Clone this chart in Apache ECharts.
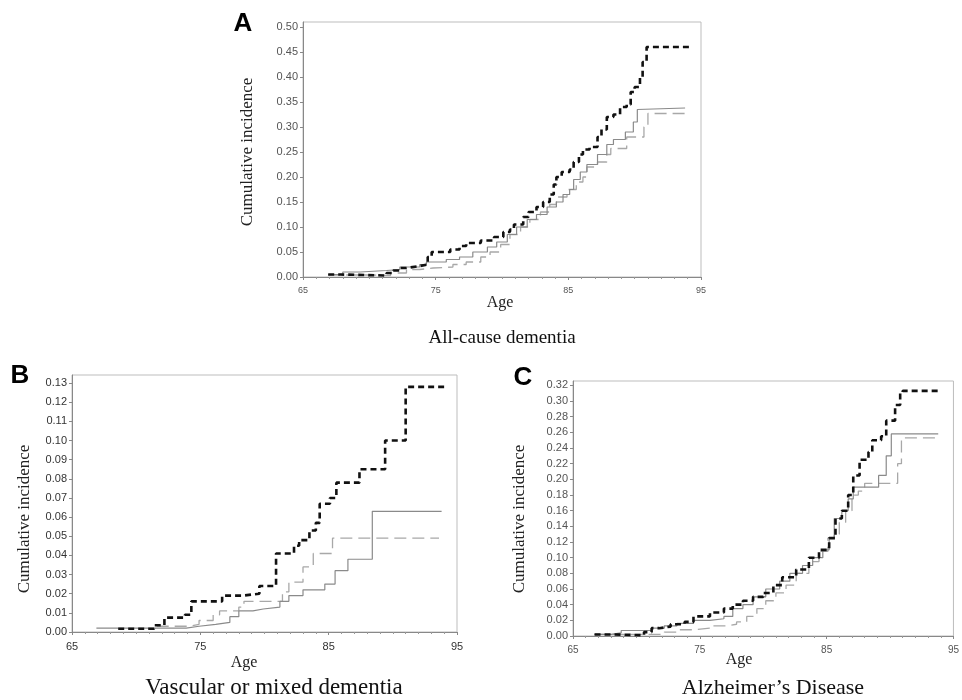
<!DOCTYPE html>
<html>
<head>
<meta charset="utf-8">
<script src="https://cdn.jsdelivr.net/npm/echarts@6/dist/echarts.min.js"></script>
<style>
html,body{margin:0;padding:0;background:#fff;}
#chart{width:962px;height:700px;}
</style>
</head>
<body>
<div id="chart"></div>
<script>
// ---------- tick labels ----------
const xTicks = [65, 75, 85, 95];
const yTicksA = [0, 0.05, 0.10, 0.15, 0.20, 0.25, 0.30, 0.35, 0.40, 0.45, 0.50];
const yTicksB = [0, 0.01, 0.02, 0.03, 0.04, 0.05, 0.06, 0.07, 0.08, 0.09, 0.10, 0.11, 0.12, 0.13];
const yTicksC = [0, 0.02, 0.04, 0.06, 0.08, 0.10, 0.12, 0.14, 0.16, 0.18, 0.20, 0.22, 0.24, 0.26, 0.28, 0.30, 0.32];

// ---------- Panel A: All-cause dementia ----------
const ageA1 = [66.9, 67.8, 71.3, 71.8, 72.3, 72.8, 73.8, 74.4, 74.7, 76.1, 76.8, 77.3, 78.4, 79.4, 80.1, 80.6, 80.9, 81.6, 82.0, 82.6, 83.1, 83.6, 83.9, 84.1, 84.5, 85.1, 85.4, 85.8, 86.1, 86.6, 87.2, 87.5, 87.9, 88.4, 88.9, 89.4, 89.7, 90.0, 90.4, 90.6, 90.9, 94.2];
const incA1 = [0.005, 0.003, 0.008, 0.013, 0.018, 0.022, 0.025, 0.04, 0.05, 0.055, 0.062, 0.068, 0.073, 0.08, 0.09, 0.095, 0.105, 0.12, 0.13, 0.14, 0.15, 0.165, 0.185, 0.2, 0.21, 0.215, 0.23, 0.245, 0.255, 0.26, 0.28, 0.295, 0.32, 0.325, 0.34, 0.345, 0.37, 0.38, 0.4, 0.43, 0.46, 0.46];
const ageA2 = [66.9, 68.0, 69.3, 71.3, 72.3, 73.8, 74.3, 75.8, 76.8, 77.8, 78.9, 79.6, 80.4, 81.1, 81.9, 82.6, 83.4, 84.1, 84.6, 85.1, 85.4, 85.9, 86.4, 87.2, 87.9, 88.4, 89.3, 89.9, 90.2, 90.3, 93.8];
const incA2 = [0.005, 0.01, 0.013, 0.015, 0.02, 0.025, 0.03, 0.035, 0.04, 0.05, 0.06, 0.07, 0.085, 0.1, 0.115, 0.125, 0.14, 0.15, 0.165, 0.175, 0.195, 0.21, 0.225, 0.245, 0.265, 0.275, 0.29, 0.31, 0.335, 0.338, 0.338];
const ageA3 = [66.9, 69.8, 71.6, 72.8, 73.8, 74.8, 76.3, 77.3, 78.4, 79.1, 79.9, 80.6, 81.4, 82.1, 82.9, 83.6, 84.1, 84.9, 85.6, 86.1, 86.4, 87.2, 87.9, 88.2, 89.4, 90.7, 91.0, 93.8];
const incA3 = [0.004, 0.003, 0.008, 0.015, 0.018, 0.02, 0.025, 0.03, 0.04, 0.05, 0.065, 0.085, 0.1, 0.115, 0.13, 0.145, 0.16, 0.175, 0.19, 0.2, 0.22, 0.23, 0.245, 0.257, 0.28, 0.3, 0.327, 0.327];

// ---------- Panel B: Vascular or mixed dementia ----------
const ageB1 = [68.6, 71.4, 72.2, 73.8, 74.3, 76.7, 78.3, 79.6, 80.9, 82.3, 82.7, 83.5, 84.0, 84.3, 85.1, 85.6, 87.4, 89.4, 91.0, 94.0];
const incB1 = [0.0017, 0.0035, 0.0075, 0.009, 0.016, 0.019, 0.02, 0.024, 0.041, 0.045, 0.048, 0.053, 0.057, 0.067, 0.07, 0.078, 0.085, 0.1, 0.128, 0.128];
const ageB2 = [66.9, 73.9, 74.9, 76.2, 77.3, 78.0, 79.1, 79.9, 81.2, 81.9, 83.0, 84.7, 85.5, 86.5, 88.4, 93.8];
const incB2 = [0.002, 0.003, 0.004, 0.005, 0.008, 0.011, 0.012, 0.013, 0.016, 0.019, 0.022, 0.025, 0.032, 0.038, 0.063, 0.063];
const ageB3 = [71.6, 74.2, 74.9, 76.0, 76.5, 78.0, 78.4, 81.4, 81.9, 83.0, 83.8, 85.3, 93.6];
const incB3 = [0.003, 0.004, 0.006, 0.009, 0.011, 0.013, 0.016, 0.021, 0.026, 0.034, 0.041, 0.049, 0.049];

// ---------- Panel C: Alzheimer's Disease ----------
const ageC1 = [66.7, 68.3, 70.6, 71.2, 71.8, 72.7, 73.8, 74.5, 75.8, 76.9, 77.6, 78.4, 79.2, 80.0, 80.8, 81.5, 82.6, 83.6, 84.4, 85.2, 85.7, 86.2, 86.7, 87.1, 87.6, 88.3, 88.6, 89.3, 89.7, 90.4, 90.8, 91.0, 93.9];
const incC1 = [0.002, 0.001, 0.005, 0.01, 0.012, 0.015, 0.018, 0.025, 0.03, 0.035, 0.04, 0.045, 0.05, 0.055, 0.065, 0.075, 0.085, 0.1, 0.11, 0.125, 0.15, 0.16, 0.18, 0.205, 0.225, 0.235, 0.25, 0.255, 0.275, 0.295, 0.31, 0.313, 0.313];
const ageC2 = [66.7, 68.0, 68.8, 71.2, 72.2, 73.2, 74.5, 75.8, 76.9, 77.6, 78.4, 79.2, 80.2, 81.3, 82.1, 83.1, 83.9, 84.7, 85.2, 85.6, 86.2, 86.7, 87.1, 89.1, 89.7, 90.1, 93.8];
const incC2 = [0.002, 0.004, 0.007, 0.01, 0.013, 0.016, 0.02, 0.022, 0.025, 0.035, 0.04, 0.05, 0.06, 0.07, 0.08, 0.09, 0.1, 0.11, 0.125, 0.15, 0.16, 0.175, 0.19, 0.205, 0.23, 0.258, 0.258];
const ageC3 = [66.7, 72.2, 73.2, 74.5, 75.8, 77.1, 77.9, 78.7, 79.5, 80.2, 81.0, 81.8, 82.6, 83.6, 84.4, 85.1, 85.6, 86.0, 86.5, 87.0, 87.5, 88.0, 90.6, 90.9, 93.8];
const incC3 = [0.002, 0.005, 0.008, 0.01, 0.013, 0.015, 0.018, 0.025, 0.035, 0.045, 0.055, 0.065, 0.08, 0.095, 0.108, 0.125, 0.13, 0.145, 0.16, 0.18, 0.185, 0.195, 0.22, 0.253, 0.253];

const panelLetters = ['A', 'B', 'C'];
const panelTitles = ['All-cause dementia', 'Vascular or mixed dementia', 'Alzheimer\u2019s Disease'];
const yName = 'Cumulative incidence';
const xName = 'Age';

// ---------- build ----------
const pairs = (a, v) => a.map((x, i) => [x, v[i]]);
const SANS = '"Liberation Sans", Arial, sans-serif';
const SERIF = '"Liberation Serif", "Times New Roman", serif';

const grids = [
  {left: 303, right: 261, top: 22, height: 255},
  {left: 72, right: 505, top: 375, height: 257},
  {left: 573, right: 4, top: 381, height: 255}
];
const yMax = [0.51, 0.1342, 0.3256];
const yTicks = [yTicksA, yTicksB, yTicksC];
const labelColors = ['#555', '#333', '#555'];
const xLabelSize = [9, 11, 10];

const xAxes = grids.map((g, i) => ({
  type: 'value', gridIndex: i, min: 65, max: 95, interval: 10,
  axisLine: {lineStyle: {color: '#888', width: 1}},
  axisTick: {show: true, length: 3, lineStyle: {color: '#888'}},
  minorTick: {show: true, splitNumber: 10, length: 2, lineStyle: {color: '#999'}},
  splitLine: {show: false},
  axisLabel: {customValues: xTicks, fontFamily: SANS, fontSize: xLabelSize[i], color: labelColors[i], margin: 9},
  name: '', 
}));
const yAxes = grids.map((g, i) => ({
  type: 'value', gridIndex: i, min: 0, max: yMax[i],
  axisLine: {show: true, lineStyle: {color: '#888', width: 1}},
  axisTick: {show: true, length: 3, customValues: yTicks[i], lineStyle: {color: '#888'}},
  splitLine: {show: false},
  axisLabel: {customValues: yTicks[i], formatter: v => v.toFixed(2), fontFamily: SANS, fontSize: 11, color: labelColors[i], margin: 5}
}));

const styles = [
  {color: '#111', width: 2.6, type: [6, 4]},
  {color: '#8a8a8a', width: 1.2, type: 'solid'},
  {color: '#a8a8a8', width: 1.3, type: [12, 6]}
];
const panelData = [
  [[ageA1, incA1], [ageA2, incA2], [ageA3, incA3]],
  [[ageB1, incB1], [ageB2, incB2], [ageB3, incB3]],
  [[ageC1, incC1], [ageC2, incC2], [ageC3, incC3]]
];
const groupNames = ['Group 1', 'Group 2', 'Group 3'];
const series = [];
panelData.forEach((pd, p) => {
  [2, 1, 0].forEach(s => {
    series.push({
      type: 'line', name: groupNames[s], xAxisIndex: p, yAxisIndex: p,
      step: 'end', showSymbol: false, symbol: 'none', silent: true, animation: false,
      z: 10 - s,
      lineStyle: styles[s],
      data: pairs(pd[s][0], pd[s][1])
    });
  });
});

// text positions
const letterPos = [[243, 24], [20, 376], [523, 378]];
const titlePos = [[502, 338], [274, 688], [773, 688]];
const titleSize = [19, 23, 22];
const yNamePos = [[248, 152], [25, 519], [520, 519]];
const xNamePos = [[500, 303], [244, 663], [739, 660]];

const graphic = [];
for (let i = 0; i < 3; i++) {
  graphic.push({type: 'text', x: letterPos[i][0], y: letterPos[i][1],
    style: {text: panelLetters[i], font: 'bold 26px ' + SANS, fill: '#000', textAlign: 'center', textVerticalAlign: 'middle'}});
  graphic.push({type: 'text', x: titlePos[i][0], y: titlePos[i][1],
    style: {text: panelTitles[i], font: titleSize[i] + 'px ' + SERIF, fill: '#111', textAlign: 'center', textVerticalAlign: 'middle'}});
  graphic.push({type: 'text', x: yNamePos[i][0], y: yNamePos[i][1], rotation: Math.PI / 2,
    style: {text: yName, font: '17px ' + SERIF, fill: '#222', textAlign: 'center', textVerticalAlign: 'middle'}});
  graphic.push({type: 'text', x: xNamePos[i][0], y: xNamePos[i][1],
    style: {text: xName, font: '16px ' + SERIF, fill: '#222', textAlign: 'center', textVerticalAlign: 'middle'}});
}

const chart = echarts.init(document.getElementById('chart'), null, {renderer: 'canvas'});
chart.setOption({
  backgroundColor: '#fff',
  animation: false,
  grid: grids.map(g => Object.assign({show: true, borderColor: '#bdbdbd', borderWidth: 1, backgroundColor: 'transparent'}, g)),
  xAxis: xAxes,
  yAxis: yAxes,
  series: series,
  graphic: graphic
});
</script>
</body>
</html>
